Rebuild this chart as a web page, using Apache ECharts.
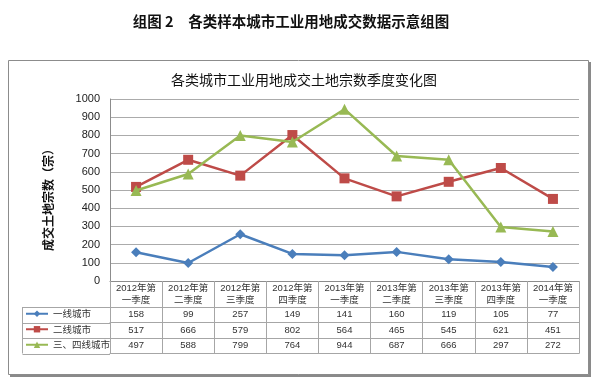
<!DOCTYPE html>
<html>
<head>
<meta charset="utf-8">
<script src="https://cdn.jsdelivr.net/npm/echarts@6/dist/echarts.min.js"></script>
<style>html,body{margin:0;padding:0;background:#fff}#c{width:595px;height:389px}</style>
</head>
<body>
<div id="c"></div>
<script>
var categories = ['2012年第\n一季度','2012年第\n二季度','2012年第\n三季度','2012年第\n四季度','2013年第\n一季度','2013年第\n二季度','2013年第\n三季度','2013年第\n四季度','2014年第\n一季度'];
var seriesNames = ['一线城市','二线城市','三、四线城市'];
var tier1 = [158, 99, 257, 149, 141, 160, 119, 105, 77];
var tier2 = [517, 666, 579, 802, 564, 465, 545, 621, 451];
var tier34 = [497, 588, 799, 764, 944, 687, 666, 297, 272];
var yTicks = {min: 0, max: 1000, interval: 100};
var mainTitle = '组图 2　各类样本城市工业用地成交数据示意组图';
var chartTitle = '各类城市工业用地成交土地宗数季度变化图';
var yName = '成交土地宗数（宗）';

var allData = [tier1, tier2, tier34];
var colors = ['#4a7ebb', '#be4b48', '#98b954'];
var symbols = ['diamond', 'rect', 'triangle'];
var symbolSizes = [10, 10, 11];

var FONT = "'Liberation Sans','Noto Sans CJK SC',sans-serif";
var CJK = "'Noto Sans CJK SC',sans-serif";
var lineC = '#a6a6a6';

var gridLeft = 110, gridRight = 579, gridTop = 99, gridBottom = 281;
var headerH = 26, rowH = 15.5;
var tableBottom = gridBottom + headerH + rowH * 3;

var xAxes = [{
  type: 'category', data: categories, boundaryGap: true, position: 'bottom',
  axisLine: {show: true, lineStyle: {color: '#8c8c8c'}},
  axisTick: {show: true, length: tableBottom - gridBottom, interval: 0, lineStyle: {color: lineC}},
  axisLabel: {interval: 0, fontSize: 9.5, lineHeight: 11.5, margin: 2, color: '#333', fontFamily: FONT}
}];
allData.forEach(function (arr, i) {
  xAxes.push({
    type: 'category', data: arr.map(String), boundaryGap: true, position: 'bottom',
    offset: headerH + rowH * i,
    axisLine: {show: true, lineStyle: {color: lineC}},
    axisTick: {show: false},
    axisLabel: {interval: 0, fontSize: 9.5, margin: 3, color: '#333', fontFamily: FONT}
  });
});
xAxes.push({
  type: 'category', data: categories, boundaryGap: true, position: 'bottom',
  offset: headerH + rowH * 3,
  axisLine: {show: true, lineStyle: {color: lineC}},
  axisTick: {show: false}, axisLabel: {show: false}
});

var series = allData.map(function (arr, i) {
  return {
    name: seriesNames[i], type: 'line', data: arr, xAxisIndex: 0,
    symbol: symbols[i], symbolSize: symbolSizes[i],
    lineStyle: {width: 2.5, color: colors[i]},
    itemStyle: {color: colors[i]},
    z: 3 + i
  };
});

var legends = seriesNames.map(function (n, i) {
  return {
    data: [n], left: 25, top: gridBottom + headerH + rowH * i + 2, orient: 'horizontal',
    padding: 0, itemWidth: 22, itemHeight: 8, itemGap: 0,
    textStyle: {fontSize: 9.5, color: '#333', fontFamily: CJK}
  };
});

var graphics = [
  {type: 'rect', z: -10, shape: {x: 10, y: 62, width: 581, height: 315}, style: {fill: '#8a8a8a'}, silent: true},
  {type: 'rect', z: -9, shape: {x: 8.5, y: 60.5, width: 580, height: 314}, style: {fill: '#fff', stroke: '#8c8c8c', lineWidth: 1}, silent: true},
  {type: 'text', x: 48, y: 197, rotation: Math.PI / 2, style: {text: yName, fontSize: 12, fontWeight: 'bold', fontFamily: CJK, fill: '#111', align: 'center', verticalAlign: 'middle'}}
];
var legLeft = 22.5, legTop = gridBottom + headerH;
graphics.push({type: 'line', shape: {x1: legLeft, y1: legTop, x2: legLeft, y2: tableBottom}, style: {stroke: lineC, lineWidth: 1}});
for (var r = 0; r <= 3; r++) {
  var yy = Math.round(legTop + rowH * r) + 0.5;
  graphics.push({type: 'line', shape: {x1: legLeft, y1: yy, x2: gridLeft, y2: yy}, style: {stroke: lineC, lineWidth: 1}});
}

var chart = echarts.init(document.getElementById('c'), null, {renderer: 'canvas'});
chart.setOption({
  animation: false,
  backgroundColor: '#fff',
  title: [
    {text: mainTitle, left: 286, top: 9, textAlign: 'center', textStyle: {fontSize: 14.5, fontWeight: 'bold', color: '#111', fontFamily: CJK}},
    {text: chartTitle, left: 299, top: 68, textAlign: 'center', textStyle: {fontSize: 14, fontWeight: 'normal', color: '#111', fontFamily: CJK}}
  ],
  legend: legends,
  grid: {left: gridLeft, right: 595 - gridRight, top: gridTop, bottom: 389 - gridBottom, containLabel: false},
  xAxis: xAxes,
  yAxis: {
    type: 'value', min: yTicks.min, max: yTicks.max, interval: yTicks.interval,
    axisLine: {show: true, lineStyle: {color: '#8c8c8c'}},
    axisTick: {show: false},
    axisLabel: {fontSize: 11, color: '#222', margin: 10, fontFamily: FONT, formatter: function (v) { return String(v); }},
    splitLine: {show: true, lineStyle: {color: '#ababab', width: 1}}
  },
  graphic: graphics,
  series: series
});
</script>
</body>
</html>
